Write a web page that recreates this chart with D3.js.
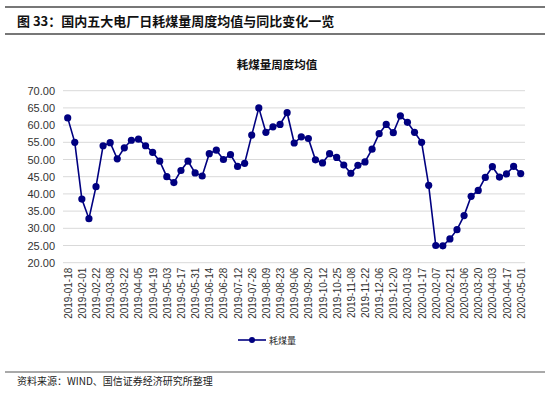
<!DOCTYPE html>
<html>
<head>
<meta charset="utf-8">
<script src="https://cdn.jsdelivr.net/npm/d3@7"></script>
<style>
body { margin: 0; background: #fff; }
svg text { font-family: Arial, "Liberation Sans", "Noto Sans CJK SC", sans-serif; }
.cjk { font-family: "Noto Sans CJK SC", sans-serif; }
</style>
</head>
<body>
<div id="chart"></div>
<script>
// weekly categories (every other one labelled on the axis)
var dates = [
  "2019-01-18","2019-01-25","2019-02-01","2019-02-15","2019-02-22","2019-03-01","2019-03-08","2019-03-15",
  "2019-03-22","2019-03-29","2019-04-05","2019-04-12","2019-04-19","2019-04-26","2019-05-03","2019-05-10",
  "2019-05-17","2019-05-24","2019-05-31","2019-06-07","2019-06-14","2019-06-21","2019-06-28","2019-07-05",
  "2019-07-12","2019-07-19","2019-07-26","2019-08-02","2019-08-09","2019-08-16","2019-08-23","2019-08-30",
  "2019-09-06","2019-09-13","2019-09-20","2019-09-27","2019-10-12","2019-10-18","2019-10-25","2019-11-01",
  "2019-11-08","2019-11-15","2019-11-22","2019-11-29","2019-12-06","2019-12-13","2019-12-20","2019-12-27",
  "2020-01-03","2020-01-10","2020-01-17","2020-01-23","2020-02-07","2020-02-14","2020-02-21","2020-02-28",
  "2020-03-06","2020-03-13","2020-03-20","2020-03-27","2020-04-03","2020-04-10","2020-04-17","2020-04-24",
  "2020-05-01"
];
var coal = [
  62.1, 55.0, 38.5, 32.8, 42.1, 54.0, 54.9, 50.2,
  53.4, 55.6, 55.9, 54.0, 52.1, 49.5, 45.0, 43.3,
  46.8, 49.5, 46.1, 45.2, 51.7, 52.7, 50.0, 51.4,
  48.0, 48.9, 57.1, 65.0, 57.9, 59.5, 60.2, 63.6,
  54.8, 56.6, 56.1, 49.9, 49.0, 51.7, 50.6, 48.4,
  46.0, 48.3, 49.3, 53.0, 57.5, 60.2, 57.8, 62.7,
  60.8, 57.9, 55.0, 42.5, 25.0, 24.9, 26.9, 29.6,
  33.7, 39.3, 41.0, 44.8, 47.9, 44.9, 45.8, 48.0,
  45.9
];
var yTicks = [20, 25, 30, 35, 40, 45, 50, 55, 60, 65, 70];

var W = 550, H = 393;
var svg = d3.select("#chart").append("svg")
    .attr("width", W).attr("height", H);

// header rules and title
svg.append("line").attr("x1", 5).attr("x2", 545).attr("y1", 7).attr("y2", 7)
    .attr("stroke", "#777").attr("stroke-width", 2);
svg.append("line").attr("x1", 5).attr("x2", 545).attr("y1", 34).attr("y2", 34)
    .attr("stroke", "#777").attr("stroke-width", 2);
svg.append("text").attr("class", "cjk").attr("x", 17).attr("y", 26)
    .attr("font-size", 13).attr("font-weight", "bold").attr("fill", "#111")
    .text("图 33：国内五大电厂日耗煤量周度均值与同比变化一览");

svg.append("text").attr("class", "cjk").attr("x", 277).attr("y", 69)
    .attr("text-anchor", "middle").attr("font-size", 11.5).attr("font-weight", "bold").attr("fill", "#111")
    .text("耗煤量周度均值");

var m = { left: 63, right: 525, top: 90.7, bottom: 262.7 };

var x = d3.scalePoint().domain(dates).range([67.7, 520.7]);
var y = d3.scaleLinear().domain([20, 70]).range([m.bottom, m.top]);

// grid
svg.append("g").selectAll("line").data(yTicks.slice(1)).enter().append("line")
    .attr("x1", m.left).attr("x2", m.right)
    .attr("y1", function(d) { return y(d); }).attr("y2", function(d) { return y(d); })
    .attr("stroke", "#d9d9d9").attr("stroke-width", 1);

var yAxis = d3.axisLeft(y).tickValues(yTicks).tickSize(0).tickPadding(8)
    .tickFormat(d3.format(".2f"));
var gY = svg.append("g").attr("transform", "translate(" + m.left + ",0)").call(yAxis);
gY.select(".domain").remove();
gY.selectAll("text").attr("font-size", 11).attr("fill", "#333");

var labelled = dates.filter(function(d, i) { return i % 2 === 0; });
var xAxis = d3.axisBottom(x).tickValues(labelled).tickSize(0).tickPadding(5);
var gX = svg.append("g").attr("transform", "translate(0," + m.bottom + ")").call(xAxis);
gX.select(".domain").attr("d", "M" + m.left + ",0H" + m.right).attr("stroke", "#d9d9d9");
gX.selectAll("text")
    .attr("font-size", 10).attr("fill", "#333")
    .attr("transform", "rotate(-90)")
    .attr("text-anchor", "end")
    .attr("x", -5).attr("y", 0).attr("dy", "0.35em");

// series
var line = d3.line()
    .x(function(d, i) { return x(dates[i]); })
    .y(function(d) { return y(d); });
svg.append("path").datum(coal).attr("d", line)
    .attr("fill", "none").attr("stroke", "#000080").attr("stroke-width", 1.6);
svg.append("g").selectAll("circle").data(coal).enter().append("circle")
    .attr("cx", function(d, i) { return x(dates[i]); })
    .attr("cy", function(d) { return y(d); })
    .attr("r", 3.6).attr("fill", "#000080");

// legend
svg.append("line").attr("x1", 238).attr("x2", 266).attr("y1", 340).attr("y2", 340)
    .attr("stroke", "#000080").attr("stroke-width", 1.6);
svg.append("circle").attr("cx", 252).attr("cy", 340).attr("r", 3).attr("fill", "#000080");
svg.append("text").attr("class", "cjk").attr("x", 269).attr("y", 344)
    .attr("font-size", 9).attr("fill", "#222").text("耗煤量");

// footer
svg.append("line").attr("x1", 5).attr("x2", 545).attr("y1", 372).attr("y2", 372)
    .attr("stroke", "#555").attr("stroke-width", 1.2);
svg.append("text").attr("class", "cjk").attr("x", 17).attr("y", 385)
    .attr("font-size", 10).attr("fill", "#222").text("资料来源：WIND、国信证券经济研究所整理");
</script>
</body>
</html>
